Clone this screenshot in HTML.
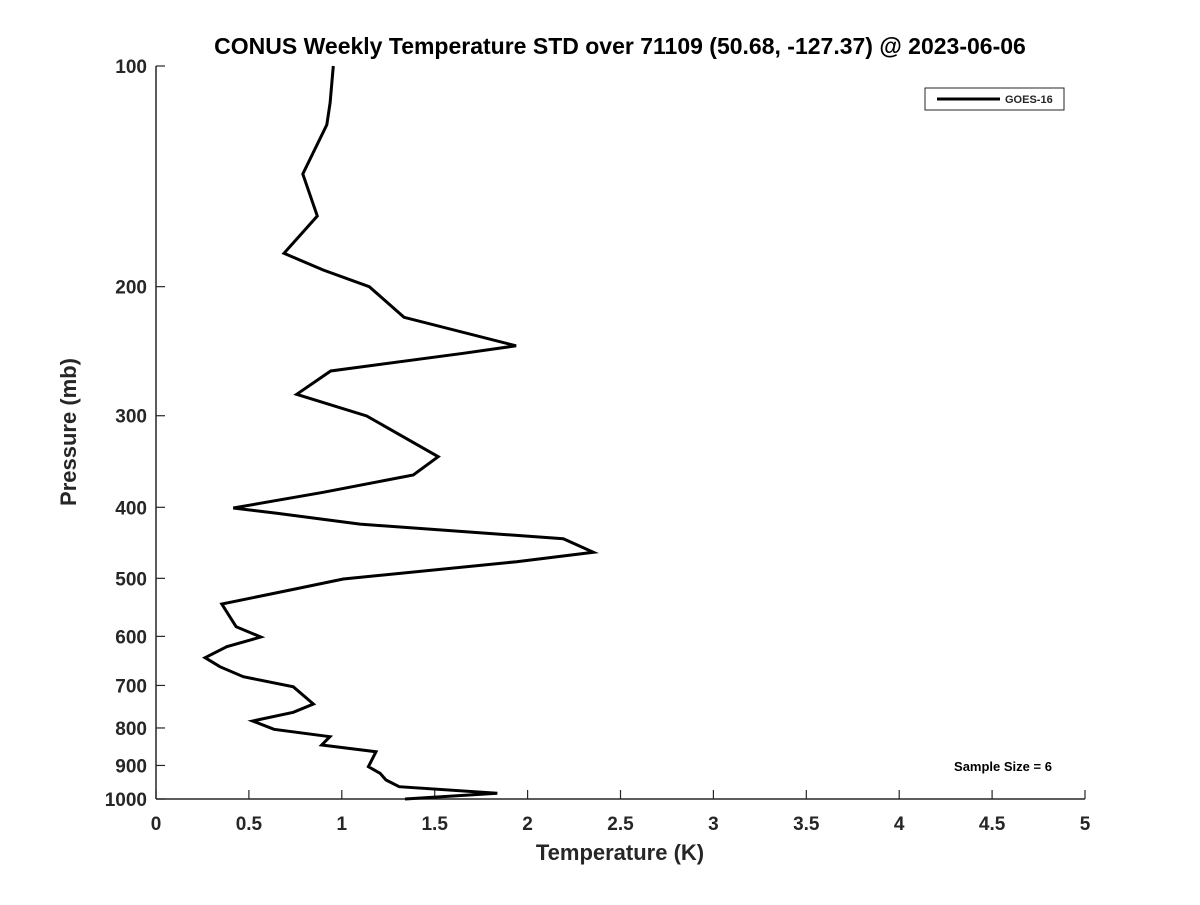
<!DOCTYPE html>
<html><head><meta charset="utf-8"><style>
body{margin:0;background:#fff;}
svg text{font-family:"Liberation Sans","DejaVu Sans",sans-serif;font-weight:bold;fill:#262626;}
</style></head><body>
<svg id="chart" width="1200" height="900" viewBox="0 0 1200 900" xmlns="http://www.w3.org/2000/svg">
<rect width="1200" height="900" fill="#fff"/>
<text x="620" y="54" text-anchor="middle" font-size="23" style="fill:#000">CONUS Weekly Temperature STD over 71109 (50.68, -127.37) @ 2023-06-06</text>
<g id="axes"></g>
<path id="series" fill="none" stroke="#000" stroke-width="3" stroke-linejoin="miter"/>
<g>
<rect x="925" y="88" width="139" height="22" fill="#fff" stroke="#262626" stroke-width="1"/>
<line x1="937" y1="99" x2="1000" y2="99" stroke="#000" stroke-width="3"/>
<text x="1005" y="103" font-size="11">GOES-16</text>
</g>
<text x="1003" y="771" text-anchor="middle" font-size="13" style="fill:#000">Sample Size = 6</text>
<text x="620" y="860" text-anchor="middle" font-size="22">Temperature (K)</text>
<text transform="translate(76,432) rotate(-90)" text-anchor="middle" font-size="22">Pressure (mb)</text>
</svg>
<script>
const temps=[0.954,0.937,0.919,0.790,0.868,0.689,0.900,1.148,1.335,1.938,1.654,0.940,0.757,1.134,1.519,1.385,0.900,0.416,0.650,1.098,1.834,2.192,2.354,1.941,1.008,0.739,0.354,0.431,0.564,0.381,0.264,0.344,0.470,0.739,0.847,0.739,0.520,0.635,0.936,0.892,1.184,1.143,1.206,1.238,1.309,1.837,1.340];
const pressures=[100,112.3,120.3,140.4,160.2,180.1,189.8,200,220.2,240.8,246.6,260.7,280.5,300.3,341.2,361.4,381.6,400.9,407.6,421.6,435,441.5,460.7,474.5,501.1,517.6,542,582.1,601.2,619.8,641.6,660,681.1,702.9,741.9,761.5,782.7,803.4,822.3,844,862,903.4,922.4,942.1,962.1,982.3,1000];
const xTicks=[0,0.5,1,1.5,2,2.5,3,3.5,4,4.5,5];
const yTicks=[100,200,300,400,500,600,700,800,900,1000];
const X0=156,X1=1085,Y0=66,Y1=799;
function xs(v){return X0+(v-0)/(5-0)*(X1-X0);}
function ys(p){return Y0+(Math.log10(p)-2)*(Y1-Y0);}
const NS="http://www.w3.org/2000/svg";
const ax=document.getElementById('axes');
function mk(t,a){const e=document.createElementNS(NS,t);for(const k in a)e.setAttribute(k,a[k]);ax.appendChild(e);return e;}
let l=mk('line',{x1:X0,y1:Y0,x2:X0,y2:Y1,stroke:'#262626','stroke-width':1.5});


l=mk('line',{x1:X0,y1:Y1,x2:X1,y2:Y1,stroke:'#262626','stroke-width':1.5});


xTicks.forEach(v=>{
 const t=mk('line',{x1:xs(v),y1:Y1,x2:xs(v),y2:Y1-9,stroke:'#262626','stroke-width':1.2});
 
 
 const tx=mk('text',{x:xs(v),y:Y1+31,'text-anchor':'middle','font-size':19});
 tx.textContent=String(v);
 
 
});
yTicks.forEach(p=>{
 const t=mk('line',{x1:X0,y1:ys(p),x2:X0+9,y2:ys(p),stroke:'#262626','stroke-width':1.2});
 
 
 const tx=mk('text',{x:X0-9,y:ys(p)+7,'text-anchor':'end','font-size':19});
 tx.textContent=String(p);
 
 
});
document.getElementById('series').setAttribute('d',temps.map((t,i)=>(i?'L':'M')+xs(t).toFixed(1)+','+ys(pressures[i]).toFixed(1)).join(' '));
</script>
</body></html>
